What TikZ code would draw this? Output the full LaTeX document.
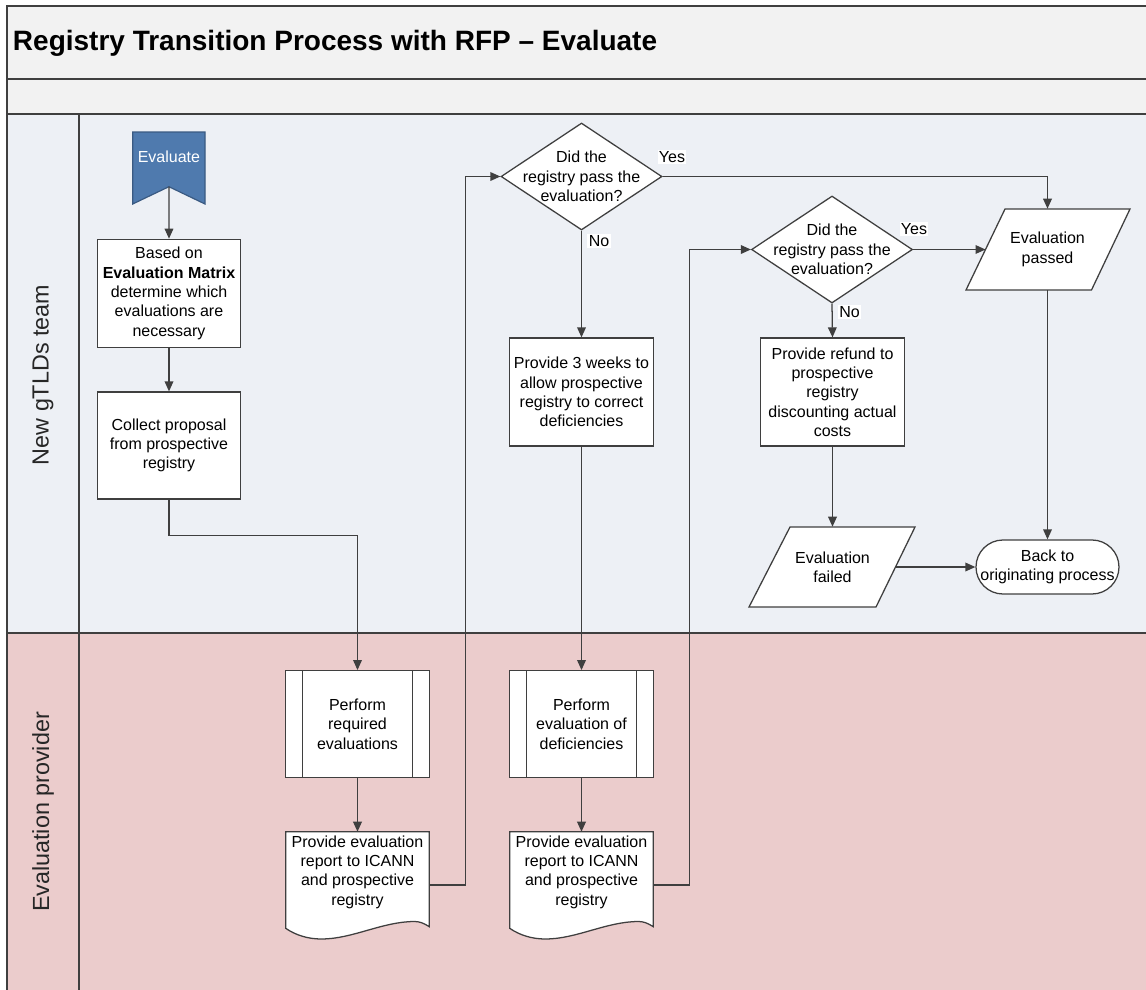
\documentclass[tikz,border=0pt]{standalone}
\usepackage{fontspec}
\setmainfont{Liberation Sans}
\usetikzlibrary{arrows.meta,shapes.geometric}
\definecolor{linec}{HTML}{3F3F3F}
\definecolor{titlebg}{HTML}{F2F2F2}
\definecolor{laneA}{HTML}{EDF0F5}
\definecolor{laneB}{HTML}{EBCCCC}
\definecolor{evblue}{HTML}{4F7AAE}
\definecolor{evborder}{HTML}{3A5A82}
\newcommand\myfs{\fontsize{12pt}{14.5pt}\selectfont}
\begin{document}
\begin{tikzpicture}[x=0.75pt, y=-0.75pt,
  conn/.style={draw=linec, line width=0.95pt},
  arr/.style={conn, -{Triangle[length=7.5pt,width=6.5pt]}},
  outline/.style={draw=linec, line width=0.95pt, fill=white},
  procbox/.style={outline, rectangle, minimum width=107.5pt, minimum height=81pt, align=center, font=\myfs, inner sep=2pt},
  predef/.style={procbox, minimum height=80.25pt, path picture={
    \draw[linec, line width=0.95pt] ([xshift=12.75pt]path picture bounding box.north west) -- ([xshift=12.75pt]path picture bounding box.south west);
    \draw[linec, line width=0.95pt] ([xshift=-12.75pt]path picture bounding box.north east) -- ([xshift=-12.75pt]path picture bounding box.south east);}},
  doctext/.style={minimum width=107.7pt, minimum height=79.5pt, inner sep=0pt},
  dec/.style={outline, diamond, minimum width=120.75pt, minimum height=80.25pt, inner sep=0pt},
  lbl/.style={font=\myfs, fill=white, inner sep=1pt},
  lane/.style={draw=linec, line width=1.3pt},
  lanelabel/.style={rotate=90, font=\fontsize{17.5pt}{21pt}\selectfont, text=black!85},
  docshape/.pic={\path[outline] (-71.8,-53.3) -- (71.8,-53.3) -- (71.8,41.7) .. controls (66,38) and (62,36.5) .. (57,36.5) .. controls (25,36.5) and (-5,54) .. (-36,54) .. controls (-50,54) and (-62,50) .. (-71.8,43.3) -- cycle;}
]
\useasboundingbox (0,0) rectangle (1146,989);
\fill[white] (0,0) rectangle (1146,989);
\begin{scope}
\clip (0,0) rectangle (1146,989);
\fill[titlebg] (7.3,6) rectangle (1160,114.3);
\fill[laneA] (7.3,114.3) rectangle (1160,633.3);
\fill[laneB] (7.3,633.3) rectangle (1160,1000);
\draw[lane] (1160,6) -- (7.3,6) -- (7.3,1000);
\draw[lane] (7.3,79) -- (1160,79);
\draw[lane] (7.3,114.3) -- (1160,114.3);
\draw[lane] (7.3,633.3) -- (1160,633.3);
\draw[lane] (79.3,114.3) -- (79.3,1000);
\end{scope}

\node[anchor=base west, font=\bfseries\fontsize{21pt}{25pt}\selectfont, inner sep=0pt] (title) at (12.7,50) {Registry Transition Process with RFP – Evaluate};
\node[lanelabel] (laneA) at (43,375) {New gTLDs team};
\node[lanelabel] (laneB) at (43,812) {Evaluation provider};

% start banner
\path[draw=evborder, fill=evblue, line width=0.9pt] (132.7,132) -- (205,132) -- (205,204) -- (168.9,186.7) -- (132.7,204) -- cycle;
\node[font=\myfs, text=white] (evtext) at (168.9,157) {Evaluate};
\coordinate (evnotch) at (168.9,186.7);

% boxes
\node[procbox] (box1) at (169,293.3) {Based on\\\textbf{Evaluation Matrix}\\determine which\\evaluations are\\necessary};
\node[procbox, minimum height=80.25pt] (box2) at (169,445.5) {Collect proposal\\from prospective\\registry};
\node[procbox] (prov3) at (581.5,392) {Provide 3 weeks to\\allow prospective\\registry to correct\\deficiencies};
\node[procbox] (refund) at (832.5,392) {Provide refund to\\prospective\\registry\\discounting actual\\costs};
\node[predef] (perf1) at (357.5,724.2) {Perform\\required\\evaluations};
\node[predef] (perf2) at (581.5,724.2) {Perform\\evaluation of\\deficiencies};

% documents
\pic at (357.5,885) {docshape};
\node[doctext, label={[align=center,font=\myfs,yshift=9.75pt]center:{Provide evaluation\\report to ICANN\\and prospective\\registry}}] (doc1) at (357.5,885) {};
\pic at (581.5,885) {docshape};
\node[doctext, label={[align=center,font=\myfs,yshift=9.75pt]center:{Provide evaluation\\report to ICANN\\and prospective\\registry}}] (doc2) at (581.5,885) {};

% decisions
\node[dec, label={[align=center,font=\myfs]center:{Did the\\registry pass the\\evaluation?}}] (d1) at (581.5,176.5) {};
\node[dec, label={[align=center,font=\myfs]center:{Did the\\registry pass the\\evaluation?}}] (d2) at (832,249.5) {};

% data shapes
\path[outline] (1005,209) -- (1130,209) -- (1091.5,290) -- (966,290) -- cycle;
\node[minimum height=60.75pt, inner sep=0pt, align=center, font=\myfs] (pass) at (1047.5,249.5) {Evaluation\\passed};
\coordinate (passL) at (985.5,249.5);
\path[outline] (790,527) -- (915,527) -- (876,607) -- (749,607) -- cycle;
\node[minimum height=60pt, inner sep=0pt, align=center, font=\myfs] (fail) at (832.5,567) {Evaluation\\failed};
\coordinate (failR) at (895.5,567);

% terminator
\node[outline, rounded corners=20.25pt, minimum width=107.25pt, minimum height=40.5pt, inner sep=0pt, align=center, font=\myfs] (term) at (1047.5,567) {Back to\\originating process};

% labels
\node[lbl] (yes1) at (672,157) {Yes};
\node[lbl] (no1) at (599,241) {No};
\node[lbl] (yes2) at (914,229) {Yes};
\node[lbl] (no2) at (849.5,312) {No};

% connectors
\draw[arr] (evnotch) -- (box1.north);
\draw[arr] (box1.south) -- (box2.north);
\draw[arr] (box2.south) -- ++(0,36) -| (perf1.north);
\draw[arr] (perf1.south) -- (doc1.north);
\draw[arr] (doc1.east) -- ++(36,0) |- (d1.west);
\draw[arr] (d1.east) -| (pass.north);
\draw[arr] (d1.south) -- (prov3.north);
\draw[arr] (prov3.south) -- (perf2.north);
\draw[arr] (perf2.south) -- (doc2.north);
\draw[arr] (doc2.east) -- ++(36,0) |- (d2.west);
\draw[arr] (d2.east) -- (passL);
\draw[arr] (d2.south) -- (refund.north);
\draw[arr] (refund.south) -- (fail.north);
\draw[arr] (failR) -- (term.west);
\draw[arr] (pass.south) -- (term.north);
\end{tikzpicture}
\end{document}
